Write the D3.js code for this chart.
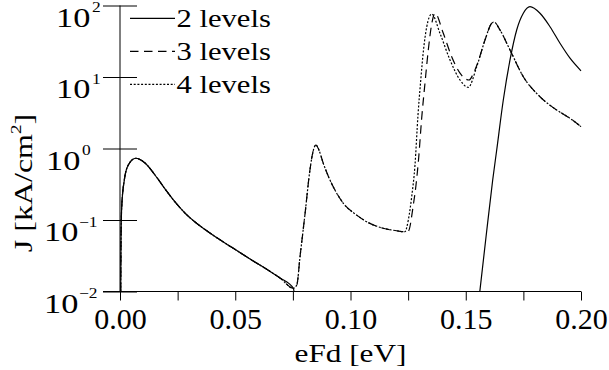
<!DOCTYPE html>
<html><head><meta charset="utf-8">
<script src="https://cdn.jsdelivr.net/npm/d3@7"></script>
<style>
html,body{margin:0;padding:0;background:#fff;}
svg{display:block;}
text{font-family:"Liberation Serif","Times New Roman",serif;fill:#000;}
</style></head><body>
<svg id="chart" width="609" height="370"></svg>
<script>
// Current density J [kA/cm^2] versus bias energy eFd [eV]

// low-bias branch, common to all three models
const eLow = [0.0003, 0.00043, 0.00074, 0.00187, 0.0036, 0.0068, 0.01085, 0.01518, 0.01952, 0.02386, 0.0282, 0.03254, 0.03688, 0.04121, 0.0490, 0.0564, 0.0638, 0.0694, 0.0752];
const jLow = [0.010, 0.0525, 0.153, 0.362, 0.587, 0.73, 0.627, 0.426, 0.272, 0.179, 0.125, 0.0938, 0.0736, 0.0587, 0.0405, 0.0285, 0.0203, 0.0155, 0.0111];

// 2 levels: end of the low branch, then the high-bias resonance
const e2End = [0.0755];
const j2End = [0.0100];
const e2High = [0.1561, 0.15879, 0.16169, 0.16343, 0.16629, 0.16920, 0.17210, 0.17497, 0.17787, 0.18221, 0.18655, 0.19089, 0.19523, 0.2000];
const j2High = [0.0100, 0.0578, 0.362, 0.953, 4.77, 17.3, 45.4, 77.8, 96.2, 77.8, 50.5, 29.6, 18.3, 12.2];

// 3 and 4 levels: shared middle resonance
const eMid = [0.0767, 0.0781, 0.0803, 0.0824, 0.0839, 0.0850, 0.0863, 0.0882, 0.0911, 0.0937, 0.0969, 0.1027, 0.1070, 0.1142, 0.1200, 0.1236];
const jMid = [0.0123, 0.0307, 0.124, 0.50, 0.95, 1.12, 0.953, 0.62, 0.362, 0.247, 0.171, 0.117, 0.0946, 0.0766, 0.0708, 0.0685];

// 3 levels: third resonance
const e3Peak = [0.1250, 0.12725, 0.12842, 0.12950, 0.13089, 0.13232, 0.13375, 0.13523, 0.13666, 0.14026, 0.14390, 0.14751, 0.15141, 0.15358, 0.15531];
const j3Peak = [0.069, 0.162, 0.309, 0.690, 2.67, 8.24, 23.9, 55.1, 77.8, 40.8, 19.2, 11.3, 9.08, 11.7, 16.2];

// 4 levels: third resonance
const e4Peak = [0.12508, 0.12655, 0.12798, 0.12928, 0.13037, 0.13167, 0.13306, 0.13523, 0.13883, 0.14317, 0.14751, 0.15111, 0.15475];
const j4Peak = [0.100, 0.212, 0.587, 2.94, 8.24, 23.9, 50.0, 76.0, 40.8, 17.3, 9.08, 7.18, 13.9];

// 3 and 4 levels: shared last resonance
const eHigh = [0.15835, 0.16126, 0.16226, 0.16486, 0.16920, 0.17497, 0.18221, 0.18946, 0.19523, 0.2000];
const jHigh = [32.9, 56.4, 58.8, 45.4, 23.9, 10.1, 5.30, 3.45, 2.64, 2.02];

const seriesNames = ["2 levels", "3 levels", "4 levels"];
const xTickValues = [0, 0.025, 0.05, 0.075, 0.1, 0.125, 0.15, 0.175, 0.2];
const xLabelValues = [0, 0.05, 0.1, 0.15, 0.2];
const yExponents = [-2, -1, 0, 1, 2];

const zip = (es, js) => es.map((e, i) => ({e: e, j: js[i]}));
const series = [
  {name: seriesNames[0], dash: null,
   segments: [zip(eLow.concat(e2End), jLow.concat(j2End)), zip(e2High, j2High)]},
  {name: seriesNames[1], dash: "8.5,5.5",
   segments: [zip(eLow.concat(eMid, e3Peak, eHigh), jLow.concat(jMid, j3Peak, jHigh))]},
  {name: seriesNames[2], dash: "2,1.7",
   segments: [zip(eLow.concat(eMid, e4Peak, eHigh), jLow.concat(jMid, j4Peak, jHigh))]}
];

const svg = d3.select("#chart");
const x = d3.scaleLinear().domain([0, 0.2]).range([120, 581]);
const y = d3.scaleLog().domain([0.01, 100]).range([291.5, 5.5]);
const SX = 1.25; // horizontal stretch of the serif lettering

svg.append("defs").append("clipPath").attr("id", "plot")
  .append("rect").attr("x", 119).attr("y", 0).attr("width", 463).attr("height", 291.5);

// curves
const line = d3.line().x(d => x(d.e)).y(d => y(d.j)).curve(d3.curveMonotoneX);
const curves = svg.append("g").attr("clip-path", "url(#plot)");
series.forEach(s => {
  s.segments.forEach(seg => {
    curves.append("path").datum(seg)
      .attr("d", line)
      .attr("fill", "none")
      .attr("stroke", "#000")
      .attr("stroke-width", 1.2)
      .attr("stroke-dasharray", s.dash);
  });
});

// x axis
const xAxis = d3.axisBottom(x).tickValues(xTickValues).tickSize(9)
  .tickFormat(d => xLabelValues.some(v => Math.abs(v - d) < 1e-9) ? d3.format(".2f")(d) : "");
const gx = svg.append("g").attr("transform", "translate(0,291.5)").call(xAxis);
gx.select(".domain").remove();
gx.selectAll(".tick line").attr("stroke", "#000").attr("stroke-width", 1);
gx.selectAll(".tick text").attr("y", 37.2).attr("dy", null)
  .style("font-size", "30px");
gx.append("line").attr("x1", 103).attr("x2", 581).attr("y1", 0).attr("y2", 0)
  .attr("stroke", "#000").attr("stroke-width", 1);

// y axis with crossing ticks and 10^n labels
const yAxis = d3.axisLeft(y).tickValues(yExponents.map(p => Math.pow(10, p)))
  .tickSize(0).tickFormat(() => "");
const gy = svg.append("g").attr("transform", "translate(120,0)").call(yAxis);
gy.select(".domain").remove();
gy.append("line").attr("x1", 0).attr("x2", 0).attr("y1", y(100)).attr("y2", y(0.01))
  .attr("stroke", "#000").attr("stroke-width", 1);
gy.selectAll(".tick").each(function(d) {
  const g = d3.select(this);
  const p = Math.round(Math.log10(d));
  g.select("line").attr("x1", -17).attr("x2", 17).attr("stroke", "#000").attr("stroke-width", 1);
  g.select("text").remove();
  const bx = (p > 0 ? 56 : p === 0 ? 46 : 44) - 120;
  g.append("text").attr("text-anchor", "start")
    .attr("transform", `translate(${bx},20.5) scale(${SX},1)`)
    .style("font-size", "27.5px").text("10");
  const ex = bx + (p < 0 ? 35 : 36);
  g.append("text").attr("text-anchor", "start")
    .attr("transform", `translate(${ex},6) scale(1.2,1)`)
    .style("font-size", "14.5px").text(p < 0 ? "\u2212" + (-p) : String(p));
});

// legend
const legend = svg.append("g");
series.forEach((s, i) => {
  const base = 26.7 + i * 33;
  legend.append("line").attr("x1", 130).attr("x2", 175)
    .attr("y1", base - 8.4).attr("y2", base - 8.4)
    .attr("stroke", "#000").attr("stroke-width", 1.2)
    .attr("stroke-dasharray", s.dash);
  legend.append("text").attr("transform", `translate(176.5,${base}) scale(${SX},1)`)
    .style("font-size", "24.5px").text(s.name);
});

// axis titles
svg.append("text").attr("transform", `translate(350.5,361.7) scale(${SX},1)`)
  .attr("text-anchor", "middle").style("font-size", "25px").text("eFd [eV]");
const yt = svg.append("text").attr("transform", "translate(32,183) rotate(-90) scale(1.28,1)")
  .attr("text-anchor", "middle").style("font-size", "25px");
yt.append("tspan").text("J [kA/cm");
yt.append("tspan").attr("dy", -11).style("font-size", "15px").text("2");
yt.append("tspan").attr("dy", 11).text("]");
</script>
</body></html>
